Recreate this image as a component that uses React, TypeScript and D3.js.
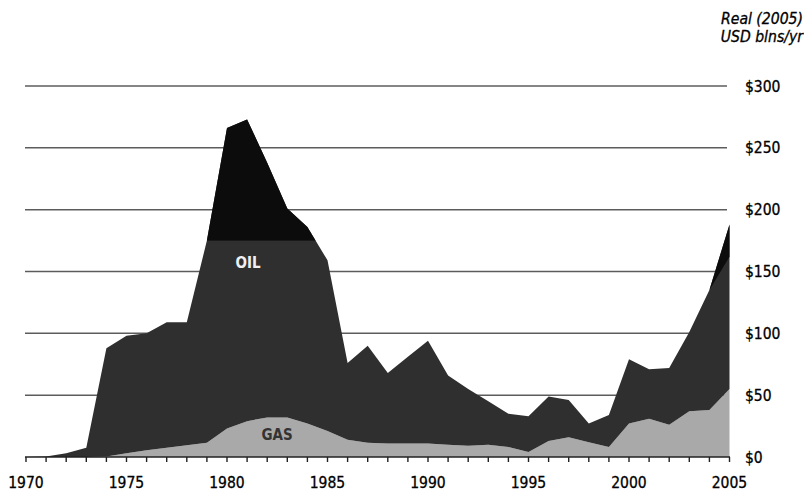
import React from "react";
import * as d3 from "d3";

const years: number[] = d3.range(1970, 2006);
// Gas revenue (light grey, bottom layer)
const gas: number[] = [
  0, 0, 0, 0, 0.5, 3, 5.5, 7.5, 9.5, 11.5,
  23, 29, 32, 32, 27, 21, 14, 11.5, 11, 11,
  11, 10, 9, 10, 8, 4, 13, 16, 12, 8,
  27, 31, 26, 37, 38, 55,
];
// Oil revenue stacked on gas (includes the black top part)
const oil: number[] = [
  0, 0.5, 3, 7.5, 87.5, 95, 94.5, 101.5, 99.5, 163.5,
  243, 244, 206, 169, 159, 138, 62, 78.5, 57, 70,
  83, 56, 46, 35, 27, 29, 36, 30, 15, 26,
  52, 40, 46, 64, 97, 133,
];
// Black wedge at the end of the series (part of oil, shown black)
const endWedge: number[] = [
  0, 0, 0, 0, 0, 0, 0, 0, 0, 0,
  0, 0, 0, 0, 0, 0, 0, 0, 0, 0,
  0, 0, 0, 0, 0, 0, 0, 0, 0, 0,
  0, 0, 0, 0, 0, 26,
];
// Level above which the early-80s peak is shown in black
const peakCap = 175;
const peakYears: [number, number] = [1979, 1985];

const yTicks: number[] = [0, 50, 100, 150, 200, 250, 300];
const xLabels: number[] = [1970, 1975, 1980, 1985, 1990, 1995, 2000, 2005];

const W = 804;
const H = 493;

export default function App() {
  const x = d3.scaleLinear().domain([1970, 2005]).range([26, 729.5]);
  const y = d3.scaleLinear().domain([0, 300]).range([457, 86]);

  const rows = years.map((yr, i) => ({
    year: yr,
    gas: gas[i],
    total: gas[i] + oil[i],
    wedge: endWedge[i],
  }));

  const gasArea = d3
    .area<any>()
    .x((d) => x(d.year))
    .y0(() => y(0))
    .y1((d) => y(d.gas))(rows) || "";
  const oilArea = d3
    .area<any>()
    .x((d) => x(d.year))
    .y0((d) => y(d.gas))
    .y1((d) => y(d.total))(rows) || "";
  const totalArea = d3
    .area<any>()
    .x((d) => x(d.year))
    .y0(() => y(0))
    .y1((d) => y(d.total))(rows) || "";
  const wedgeArea = d3
    .area<any>()
    .x((d) => x(d.year))
    .y0((d) => y(d.total - d.wedge))
    .y1((d) => y(d.total))
    .defined((d) => d.year >= 2004)(rows) || "";

  const font = "'DejaVu Sans Condensed', 'DejaVu Sans', sans-serif";
  const txt = { fontFamily: font, fill: "#000", stroke: "#000", strokeWidth: 0.3 } as any;

  return (
    <div style={{ position: "absolute", left: 0, top: 0 }}>
      <svg width={W} height={H} style={{ display: "block", background: "#fff" }}>
        <defs>
          <clipPath id="totalClip">
            <path d={totalArea} />
          </clipPath>
        </defs>
        {yTicks
          .filter((t) => t > 0)
          .map((t) => (
            <line
              key={"g" + t}
              x1={25}
              x2={727}
              y1={y(t)}
              y2={y(t)}
              stroke="#5c5c5c"
              strokeWidth={1.5}
            />
          ))}
        <path d={gasArea} fill="#a9a9a9" />
        <path d={oilArea} fill="#2f2f2f" />
        <g clipPath="url(#totalClip)">
          <rect
            x={x(peakYears[0])}
            width={x(peakYears[1]) - x(peakYears[0])}
            y={y(300)}
            height={y(peakCap) - y(300)}
            fill="#0c0c0c"
          />
        </g>
        <path d={wedgeArea} fill="#0c0c0c" />
        <line x1={25} x2={730} y1={y(0)} y2={y(0)} stroke="#222" strokeWidth={1.6} />
        {years.map((yr) => (
          <line
            key={"t" + yr}
            x1={x(yr)}
            x2={x(yr)}
            y1={y(0)}
            y2={y(0) + 5}
            stroke="#222"
            strokeWidth={1.4}
          />
        ))}
        {xLabels.map((yr) => (
          <text key={"xl" + yr} x={x(yr)} y={488} textAnchor="middle" fontSize={15.5} {...txt}>
            {yr}
          </text>
        ))}
        {yTicks.map((t) => (
          <text key={"yl" + t} x={745} y={y(t)} dy="0.36em" fontSize={15.5} {...txt}>
            {"$" + t}
          </text>
        ))}
        <text x={803} y={24} textAnchor="end" fontStyle="italic" fontSize={15.6} {...txt}>
          Real (2005)
        </text>
        <text x={803} y={42} textAnchor="end" fontStyle="italic" fontSize={15.6} {...txt}>
          USD blns/yr
        </text>
        <text
          x={248}
          y={262.5}
          dy="0.36em"
          textAnchor="middle"
          fontFamily={font}
          fontWeight="bold"
          fontSize={15}
          fill="#f0f0f0"
        >
          OIL
        </text>
        <text
          x={277}
          y={435}
          dy="0.36em"
          textAnchor="middle"
          fontFamily={font}
          fontWeight="bold"
          fontSize={15}
          fill="#333"
        >
          GAS
        </text>
      </svg>
    </div>
  );
}
